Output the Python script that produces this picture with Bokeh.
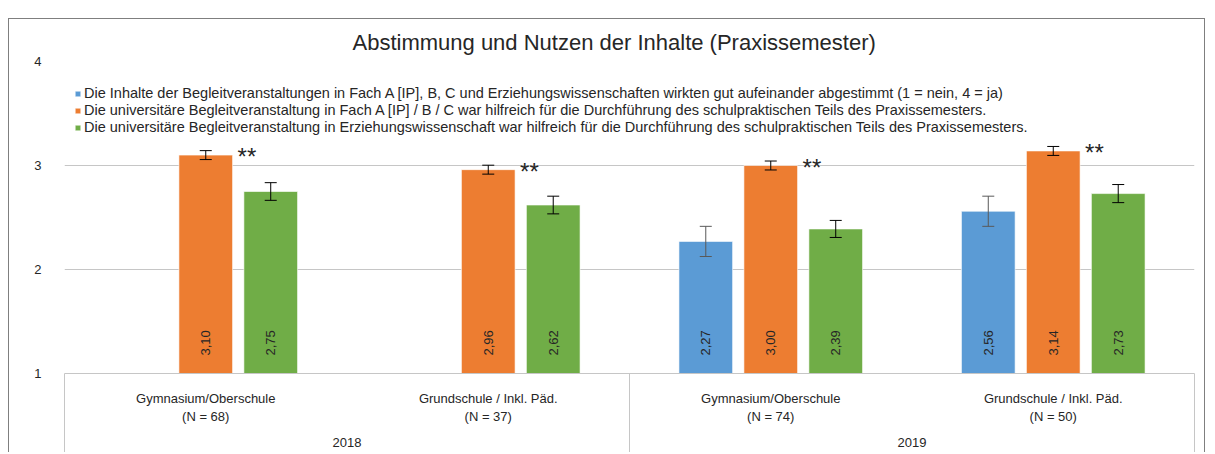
import math
from bokeh.plotting import figure
from bokeh.models import (FactorRange, Range1d, ColumnDataSource, Whisker, TeeHead,
                          Legend, LegendItem, FixedTicker)
from bokeh.embed import file_html
from bokeh.resources import INLINE
from bokeh.core.properties import value

# ---------------- data ----------------
title_text = "Abstimmung und Nutzen der Inhalte (Praxissemester)"
years = ["2018", "2018", "2019", "2019"]
schools = ["Gymnasium/Oberschule", "Grundschule / Inkl. Päd.",
           "Gymnasium/Oberschule", "Grundschule / Inkl. Päd."]
n_values = [68, 37, 74, 50]

series_labels = [
    "Die Inhalte der Begleitveranstaltungen in Fach A [IP], B, C und Erziehungswissenschaften wirkten gut aufeinander abgestimmt (1 = nein, 4 = ja)",
    "Die universitäre Begleitveranstaltung in Fach A [IP] / B / C war hilfreich für die Durchführung des schulpraktischen Teils des Praxissemesters.",
    "Die universitäre Begleitveranstaltung in Erziehungswissenschaft war hilfreich für die Durchführung des schulpraktischen Teils des Praxissemesters.",
]
abgestimmt = [None, None, 2.27, 2.56]
abgestimmt_err = [None, None, 0.145, 0.145]
fach = [3.10, 2.96, 3.00, 3.14]
fach_err = [0.043, 0.043, 0.043, 0.043]
ezw = [2.75, 2.62, 2.39, 2.73]
ezw_err = [0.085, 0.085, 0.082, 0.087]
fach_sig = ["**", "**", "**", "**"]
y_ticks = [1, 2, 3, 4]
y_min, y_max = 1, 4

colors = ["#5B9BD5", "#ED7D31", "#70AD47"]
err_colors = ["#595959", "#000000", "#000000"]
FONT = "Liberation Sans"
TXT = "#262626"
LINE = "#c6c6c6"

FRAME_H = 312  # frame height in px (used only to convert pixel nudges to data units)
px = (y_max - y_min) / FRAME_H

# ---------------- figure ----------------
factors = [(y, f"{s}\n(N = {n})") for y, s, n in zip(years, schools, n_values)]
x_range = FactorRange(*factors, group_padding=0, factor_padding=0, range_padding=0,
                      subgroup_padding=0)

p = figure(x_range=x_range, y_range=Range1d(y_min, y_max),
           width=1197, height=434, output_backend="svg", toolbar_location=None,
           min_border_left=55, min_border_right=12, min_border_top=42, min_border_bottom=80,
           styles={"border-top": "1px solid #7f7f7f", "border-left": "1px solid #7f7f7f",
                   "border-right": "1px solid #7f7f7f", "position": "relative",
                   "left": "8px", "top": "18px"})
p.outline_line_color = None
p.background_fill_color = "white"
p.border_fill_color = "white"

p.title.text = title_text
p.title.align = "left"
p.title.offset = 288
p.title.text_font = FONT
p.title.text_font_size = "22px"
p.title.text_font_style = "normal"
p.title.text_color = TXT
p.title.standoff = 13

# y axis
p.yaxis.ticker = FixedTicker(ticks=y_ticks)
p.ygrid.ticker = FixedTicker(ticks=y_ticks)
p.ygrid.grid_line_color = LINE
p.xgrid.grid_line_color = None
p.yaxis.axis_line_color = None
p.yaxis.major_tick_line_color = None
p.yaxis.minor_tick_line_color = None
p.yaxis.major_label_standoff = 17
p.yaxis.major_label_text_font = FONT
p.yaxis.major_label_text_font_size = "13px"
p.yaxis.major_label_text_color = TXT

# x axis (nested categories)
xa = p.xaxis[0]
xa.axis_line_color = LINE
xa.major_tick_line_color = None
xa.minor_tick_line_color = None
xa.major_label_standoff = 11
xa.major_label_text_font = FONT
xa.major_label_text_font_size = "13px"
xa.major_label_text_color = TXT
xa.group_text_font = FONT
xa.group_text_font_size = "13px"
xa.group_text_font_style = "normal"
xa.group_text_color = TXT
xa.separator_line_color = None

# vertical lines of the category table below the axis (year-group boundaries)
bounds = [0]
for i in range(1, len(years)):
    if years[i] != years[i - 1]:
        bounds.append(i)
bounds.append(len(years))
bsrc = ColumnDataSource(dict(x=bounds, lo=[y_min - 1] * len(bounds), hi=[y_min] * len(bounds)))
p.segment(x0="x", y0="lo", x1="x", y1="hi", source=bsrc, line_color=LINE,
          line_width=1, level="overlay")

# ---------------- bars ----------------
offsets = [-0.23, 0.0, 0.23]
bar_w = 0.19
series = [(abgestimmt, abgestimmt_err), (fach, fach_err), (ezw, ezw_err)]
legend_items = []
for k, (vals, errs) in enumerate(series):
    xs, tops, lo, hi, labels = [], [], [], [], []
    for i, (v, e) in enumerate(zip(vals, errs)):
        if v is None:
            continue
        xs.append(i + 0.5 + offsets[k])
        tops.append(v)
        lo.append(v - e)
        hi.append(v + e)
        labels.append(f"{v:.2f}".replace(".", ","))
    src = ColumnDataSource(dict(x=xs, top=tops, lower=lo, upper=hi, label=labels,
                                lab_y=[y_min + 18 * px] * len(xs)))
    r = p.vbar(x="x", top="top", bottom=y_min, width=bar_w, source=src,
               fill_color=colors[k], line_color="white", line_alpha=0.6, line_width=1)
    legend_items.append(LegendItem(label=series_labels[k], renderers=[r]))
    w = Whisker(source=src, base="x", lower="lower", upper="upper", dimension="height",
                line_color=err_colors[k], line_width=1, level="annotation",
                upper_head=TeeHead(size=12, line_color=err_colors[k], line_width=1),
                lower_head=TeeHead(size=12, line_color=err_colors[k], line_width=1))
    p.add_layout(w)
    p.text(x="x", y="lab_y", text="label", source=src, angle=math.pi / 2,
           text_align="left", text_baseline="middle", text_font=value(FONT),
           text_font_size="13px", text_color=TXT)
    if k == 1:
        sig_src = ColumnDataSource(dict(
            x=[xx + bar_w / 2 for xx in xs],
            y=[t - 1.5 * px for t in tops],
            t=[fach_sig[i] for i, v in enumerate(vals) if v is not None]))
        p.text(x="x", y="y", text="t", source=sig_src, x_offset=5, text_align="left",
               text_baseline="alphabetic", text_font=value(FONT), text_font_size="24px",
               text_color=TXT)

legend = Legend(items=legend_items, location=(10, 238), padding=0, spacing=1,
                glyph_width=7, glyph_height=7, label_standoff=3, label_height=16,
                label_text_font=FONT, label_text_font_size="14.5px", label_text_color=TXT,
                background_fill_alpha=0, border_line_color=None)
p.add_layout(legend)

open("out.html", "w").write(file_html(p, INLINE))
